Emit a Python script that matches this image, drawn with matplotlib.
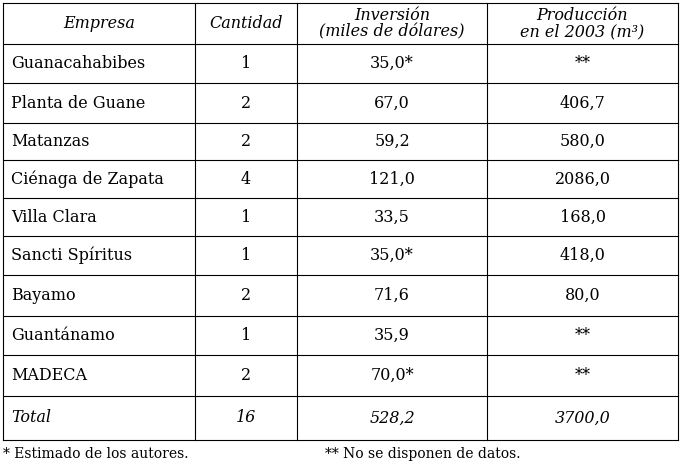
import matplotlib.pyplot as plt

empresas = ["Guanacahabibes", "Planta de Guane", "Matanzas", "Ciénaga de Zapata",
            "Villa Clara", "Sancti Spíritus", "Bayamo", "Guantánamo", "MADECA"]
cantidad = ["1", "2", "2", "4", "1", "1", "2", "1", "2"]
inversion = ["35,0*", "67,0", "59,2", "121,0", "33,5", "35,0*", "71,6", "35,9", "70,0*"]
produccion = ["**", "406,7", "580,0", "2086,0", "168,0", "418,0", "80,0", "**", "**"]
total = ["Total", "16", "528,2", "3700,0"]
headers = ["Empresa", "Cantidad", "Inversión\n(miles de dólares)", "Producción\nen el 2003 (m³)"]

col_x = [3, 195, 297, 487, 678]
row_y = [3, 44, 83, 123, 160, 198, 236, 275, 316, 355, 396, 440]

plt.rcParams['font.family'] = ['DejaVu Serif', 'Liberation Serif']
fig = plt.figure(figsize=(6.82, 4.70), dpi=100)
ax = fig.add_axes([0, 0, 1, 1])
ax.set_xlim(0, 682)
ax.set_ylim(470, 0)
ax.axis("off")

for x in col_x:
    ax.plot([x, x], [row_y[0], row_y[-1]], color="black", lw=0.8)
for y in row_y:
    ax.plot([col_x[0], col_x[-1]], [y, y], color="black", lw=0.8)

fs = 11.5
def cx(i):
    return (col_x[i] + col_x[i + 1]) / 2

def cy(r):
    return (row_y[r] + row_y[r + 1]) / 2

for i, h in enumerate(headers):
    ax.text(cx(i), cy(0), h, ha="center", va="center", style="italic",
            fontsize=fs, linespacing=0.95)

rows = list(zip(empresas, cantidad, inversion, produccion))
for r, row in enumerate(rows, start=1):
    ax.text(col_x[0] + 8, cy(r), row[0], ha="left", va="center", fontsize=fs)
    for i in range(1, 4):
        ax.text(cx(i), cy(r), row[i], ha="center", va="center", fontsize=fs)

r = len(rows) + 1
ax.text(col_x[0] + 8, cy(r), total[0], ha="left", va="center", fontsize=fs, style="italic")
for i in range(1, 4):
    ax.text(cx(i), cy(r), total[i], ha="center", va="center", fontsize=fs, style="italic")

ax.text(3, 454, "* Estimado de los autores.", ha="left", va="center", fontsize=10)
ax.text(325, 454, "** No se disponen de datos.", ha="left", va="center", fontsize=10)

fig.savefig("out.png", dpi=100)
